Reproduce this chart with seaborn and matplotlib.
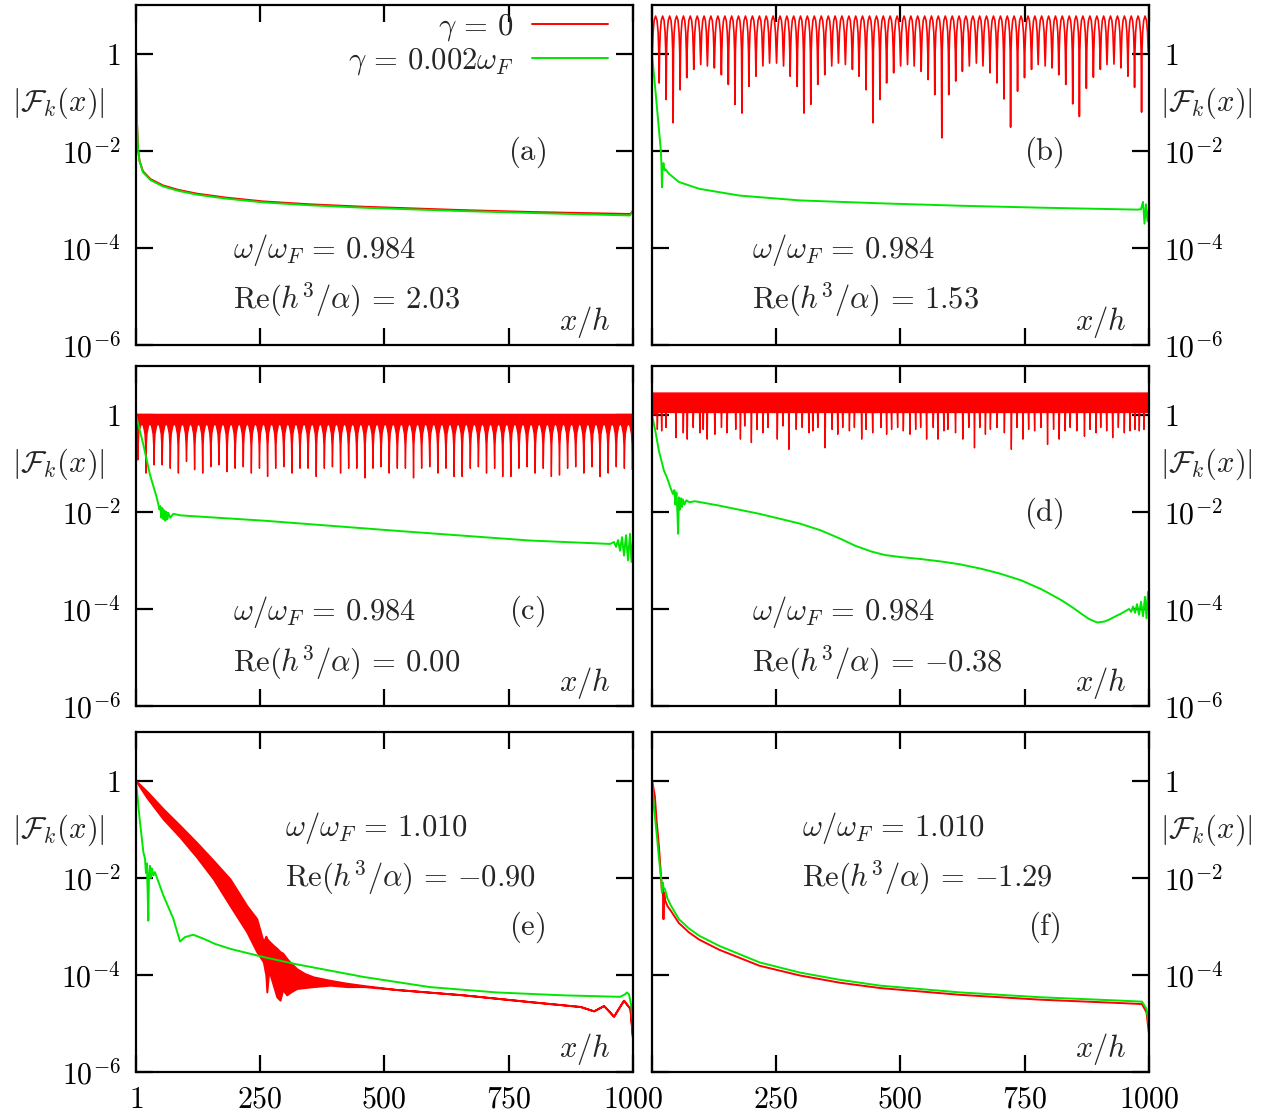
import numpy as np
import matplotlib
matplotlib.use("Agg")
import matplotlib.pyplot as plt
from matplotlib.lines import Line2D
from matplotlib.ticker import FixedLocator, FixedFormatter, NullLocator
import seaborn as sns

# ------------------------------------------------------------------ data
X_TICKS = [1, 250, 500, 750, 1000]
X_TICK_LABELS = [r"$1$", r"$250$", r"$500$", r"$750$", r"$1000$"]
Y_TICKS = [1, 1e-2, 1e-4, 1e-6]
Y_TICK_LABELS = [r"$1$", r"$10^{-2}$", r"$10^{-4}$", r"$10^{-6}$"]

panel_letters = ["a", "b", "c", "d", "e", "f"]
omega_ratio = ["0.984", "0.984", "0.984", "0.984", "1.010", "1.010"]
re_h3_alpha = ["2.03", "1.53", "0.00", "-0.38", "-0.90", "-1.29"]
legend_labels = [r"$\gamma\,=\,0$", r"$\gamma\,=\,0.002\omega_F$"]

# (a)  values given as log10 |F|
a_x = [1, 2, 3, 5, 8, 15, 30, 55, 85, 123, 180, 256, 350, 457, 658, 800, 994, 1000]
a_red_log = [0, -0.75, -1.4, -1.95, -2.2, -2.42, -2.58, -2.71, -2.80, -2.88, -2.96,
             -3.04, -3.10, -3.15, -3.22, -3.26, -3.30, -3.24]
a_green_log = [0, -0.75, -1.4, -1.96, -2.21, -2.44, -2.60, -2.73, -2.82, -2.90, -2.98,
               -3.06, -3.12, -3.17, -3.24, -3.28, -3.33, -3.22]

# (b) red: crest level and the minima between arches
b_red_start_log = 0.0
b_red_crest_log = 0.78
b_red_dip_x = [15.4, 29.4, 43.4, 57.5, 70.8, 84.9, 98.9, 112.3, 126.3, 140.4, 154.4, 167.8,
               181.8, 195.8, 209.9, 223.9, 237.3, 251.3, 265.4, 278.7, 292.8, 306.2, 320.2,
               334.2, 348.3, 362.3, 375.7, 389.7, 403.8, 417.1, 431.2, 445.2, 459.2, 472.6,
               486.7, 500.7, 514.6, 528.0, 542.0, 556.1, 569.4, 583.5, 597.5, 611.5, 624.9,
               638.9, 653.0, 666.3, 680.4, 694.4, 708.4, 721.8, 735.8, 749.8, 763.9, 777.2,
               791.3, 805.3, 818.7, 832.7, 846.7, 860.1, 874.1, 888.2, 902.2, 915.6, 929.6,
               943.6, 957.7, 971.0, 985.1]
b_red_dip_log = [-0.60, -0.94, -1.42, -0.74, -0.49, -0.32, -0.22, -0.25, -0.29, -0.43,
                 -0.63, -1.04, -1.22, -0.67, -0.46, -0.25, -0.19, -0.19, -0.25, -0.46,
                 -0.67, -1.22, -1.04, -0.63, -0.43, -0.25, -0.19, -0.22, -0.32, -0.46,
                 -0.74, -1.42, -0.94, -0.60, -0.39, -0.25, -0.22, -0.25, -0.36, -0.53,
                 -0.84, -1.73, -0.84, -0.56, -0.36, -0.25, -0.19, -0.25, -0.39, -0.60,
                 -0.93, -1.51, -0.77, -0.49, -0.32, -0.22, -0.25, -0.29, -0.43, -0.63,
                 -1.03, -1.29, -0.71, -0.48, -0.32, -0.22, -0.21, -0.29, -0.46, -0.69, -1.20]
b_green_x = [1, 10, 18.8, 20, 21, 22, 24, 26, 28, 35, 55, 95.6, 176.5, 298, 460, 621, 783,
             977, 984, 988, 991, 994, 997, 1000]
b_green_log = [0, -1.0, -2.0, -2.3, -2.75, -2.35, -2.25, -2.4, -2.38, -2.47, -2.64, -2.78,
               -2.92, -3.02, -3.08, -3.13, -3.17, -3.21, -3.2, -3.05, -3.5, -3.1, -3.45, -3.2]

# (c) red: dense band with periodic spikes
c_red_top_log = 0.02
c_red_mid_log = -0.17
c_red_spike_x = [3.7, 20.0, 36.3, 52.6, 68.9, 85.2, 101.5, 117.8, 134.1, 150.4, 166.7, 183.0,
                 199.3, 215.6, 231.9, 248.2, 264.5, 280.8, 297.1, 313.4, 329.7, 346.0, 362.3,
                 378.6, 394.9, 411.2, 427.5, 443.8, 460.1, 476.4, 492.7, 509.0, 525.3, 541.6,
                 557.9, 574.2, 590.5, 606.8, 623.1, 639.4, 655.7, 672.0, 688.3, 704.6, 720.9,
                 737.2, 753.5, 769.8, 786.1, 802.4, 818.7, 835.0, 851.3, 867.6, 883.9, 900.2,
                 916.5, 932.8, 949.1, 965.4, 981.7, 998.0]
c_red_spike_log = [-0.92, -1.19, -1.02, -1.02, -1.09, -1.19, -0.95, -1.12, -1.19, -1.06,
                   -1.02, -1.16, -1.09, -1.06, -1.19, -1.09, -1.26, -1.09, -1.06, -1.19,
                   -1.09, -1.09, -1.26, -1.09, -1.06, -1.19, -1.09, -1.09, -1.29, -1.09,
                   -1.06, -1.19, -1.09, -1.09, -1.29, -1.09, -1.06, -1.19, -1.09, -1.26,
                   -1.26, -1.09, -1.06, -1.19, -1.09, -1.26, -1.26, -1.09, -1.06, -1.19,
                   -1.09, -1.26, -1.23, -1.09, -1.06, -1.19, -1.06, -1.26, -1.19, -1.06,
                   -1.09, -1.12]
c_green_x = [1, 8, 15.7, 29, 42.6, 46, 48, 50, 52, 54, 56, 58, 60, 62, 64, 66, 70, 76, 90, 103,
             257, 525, 793, 954, 962, 966, 970, 974, 978, 982, 986, 990, 994, 997, 1000]
c_green_log = [0, -0.3, -0.61, -1.23, -1.70, -1.85, -1.95, -1.88, -2.12, -1.92, -2.15, -1.97,
               -2.18, -2.0, -2.15, -2.02, -2.12, -2.04, -2.07, -2.08, -2.18, -2.39, -2.59,
               -2.66, -2.62, -2.72, -2.58, -2.80, -2.52, -2.9, -2.48, -3.0, -2.45, -3.03, -2.6]

# (d) red: dense noisy band with irregular spikes
d_red_top_log = 0.46
d_red_base_log = 0.06
d_red_spike_x = [10.7, 19.4, 28.1, 48.1, 62.8, 70.8, 82.8, 96.2, 102.9, 110.9,
                 126.3, 139.6, 151.0, 168.3, 177.7, 186.4, 199.7, 211.1, 223.1, 233.1,
                 251.8, 263.2, 275.2, 289.9, 301.9, 315.3, 323.3, 333.3, 348.0, 362.0,
                 373.4, 383.4, 396.8, 406.8, 421.5, 430.2, 443.6, 460.3, 471.6, 481.6,
                 493.7, 505.2, 518.6, 530.0, 540.0, 552.0, 565.3, 574.7, 586.7, 594.7,
                 610.1, 624.8, 636.8, 648.2, 658.9, 670.2, 680.2, 693.6, 708.3, 722.3,
                 733.7, 745.7, 757.1, 769.1, 781.8, 795.1, 807.2, 818.5, 830.5, 840.6,
                 853.9, 869.3, 880.6, 892.7, 902.0, 914.0, 926.1, 937.4, 949.4, 960.8,
                 970.8, 979.5, 988.9]
d_red_spike_log = [-0.29, -0.32, -0.25, -0.46, -0.36, -0.49, -0.25, -0.36, -0.29, -0.49,
                   -0.39, -0.25, -0.36, -0.29, -0.49, -0.22, -0.56, -0.29, -0.36, -0.25,
                   -0.49, -0.22, -0.70, -0.29, -0.25, -0.36, -0.32, -0.25, -0.67, -0.29,
                   -0.39, -0.25, -0.32, -0.25, -0.49, -0.29, -0.36, -0.25, -0.39, -0.29,
                   -0.25, -0.32, -0.39, -0.29, -0.25, -0.49, -0.25, -0.49, -0.32, -0.29,
                   -0.36, -0.49, -0.25, -0.67, -0.25, -0.39, -0.29, -0.25, -0.36, -0.70,
                   -0.25, -0.49, -0.29, -0.32, -0.25, -0.60, -0.29, -0.49, -0.32, -0.25,
                   -0.32, -0.43, -0.29, -0.36, -0.25, -0.32, -0.46, -0.25, -0.36, -0.32,
                   -0.29, -0.32, -0.29]
d_green_x = [1, 8, 14.8, 25, 31, 38, 43, 46, 48, 50, 52, 53.5, 55, 57, 59, 61, 63, 66, 70, 76,
             87.5, 136, 217, 298, 340, 379, 410, 443, 470, 500, 540, 581, 620, 662, 700, 743,
             785, 824, 848, 864, 880, 896, 910, 920, 935, 945, 960,
             964, 968, 972, 976, 980, 984, 988, 992, 995, 998, 1000]
d_green_log = [0, -0.35, -0.74, -1.15, -1.29, -1.5, -1.63, -1.55, -1.85, -1.6, -2.0, -2.45,
               -1.7, -1.95, -1.72, -1.9, -1.74, -1.85, -1.76, -1.8,
               -1.78, -1.87, -2.04, -2.24, -2.38, -2.55, -2.70, -2.82, -2.89, -2.93, -2.97,
               -3.02, -3.08, -3.17, -3.27, -3.41, -3.60, -3.82, -3.98, -4.10, -4.21, -4.28,
               -4.26, -4.22, -4.14, -4.09, -4.0,
               -4.06, -3.95, -4.08, -3.9, -4.12, -3.85, -4.15, -3.75, -4.19, -3.65, -3.9]

# (e) red: upper / lower edge of the oscillating band
e_red_x = [1, 22.5, 56, 89.5, 123, 156.5, 190, 223.6, 243.7, 257, 262, 264, 268, 277, 284,
           290.6, 296, 304, 312, 324, 340, 357.7, 391, 424.7, 460, 525, 659, 793, 894, 921,
           941, 961, 981, 994, 1000]
e_red_hi_log = [0, -0.21, -0.58, -0.92, -1.27, -1.64, -2.02, -2.57, -2.84, -3.32, -3.2,
                -3.25, -3.3, -3.39, -3.45, -3.52, -3.55, -3.66, -3.75, -3.87, -3.97, -4.04,
                -4.11, -4.17, -4.22, -4.30, -4.41, -4.55, -4.65, -4.74, -4.63, -4.85, -4.52,
                -4.69, -5.41]
e_red_lo_log = [0, -0.34, -0.79, -1.16, -1.57, -2.02, -2.57, -3.11, -3.52, -3.73, -4.0,
                -4.35, -3.9, -4.21, -4.45, -4.52, -4.3, -4.41, -4.35, -4.28, -4.26, -4.24,
                -4.21, -4.24, -4.24, -4.30, -4.41, -4.55, -4.65, -4.74, -4.63, -4.85, -4.52,
                -4.69, -5.41]
e_green_x = [1, 8, 15.8, 19, 21, 23, 25.8, 27, 29, 31, 33, 36, 39, 56, 76, 89.5, 99.5, 116,
             136, 160, 190, 257, 324, 458, 592, 726, 860, 974, 984, 988, 992, 996, 1000]
e_green_log = [0, -0.75, -1.47, -1.6, -1.9, -1.7, -2.88, -1.95, -1.75, -2.0, -1.8, -1.95,
               -1.88, -2.36, -2.84, -3.31, -3.22, -3.17, -3.25, -3.36, -3.46, -3.63, -3.78,
               -4.04, -4.25, -4.36, -4.42, -4.45, -4.40, -4.36, -4.40, -4.6, -4.95]

# (f)
f_red_x = [1, 3, 6.7, 10, 14.8, 18, 21, 22.5, 24, 25.5, 27.7, 32, 39, 55, 75, 95.6, 136, 217,
           298, 378.8, 459.6, 621, 783, 945, 986, 995, 1000]
f_red_log = [0, -0.1, -0.31, -0.8, -1.34, -1.8, -2.3, -2.1, -2.85, -2.3, -2.47, -2.58, -2.68,
             -2.93, -3.12, -3.27, -3.48, -3.81, -4.01, -4.16, -4.27, -4.41, -4.51, -4.58,
             -4.60, -4.77, -5.21]
f_green_x = [1, 5, 10.7, 15, 18.8, 20, 21, 22.5, 24, 26.9, 32, 39, 55, 75, 95.6, 136, 217,
             298, 378.8, 459.6, 621, 783, 945, 986, 995, 1000]
f_green_log = [0, -0.55, -1.13, -1.6, -1.96, -2.05, -2.3, -2.1, -2.2, -2.23, -2.42, -2.57,
               -2.85, -3.04, -3.19, -3.40, -3.74, -3.95, -4.10, -4.22, -4.36, -4.46, -4.53,
               -4.55, -4.70, -5.04]

# ------------------------------------------------------------------ style
RED = "#ff0000"
GREEN = "#00e600"
LW = 1.4
FS = 22
TICK_FS = 21.5

# arch shape between two successive minima (fraction of period, drop below crest in log10)
ARCH_FRAC = [0.06, 0.15, 0.3, 0.5, 0.7, 0.85, 0.94]
ARCH_DROP = [-0.73, -0.34, -0.09, 0.0, -0.09, -0.34, -0.73]


def arch_line(x0, start_log, dip_x, dip_log, crest_log, x_end):
    xs, ys = [x0], [start_log]
    prev = x0
    for dx, dl in zip(dip_x, dip_log):
        for f, d in zip(ARCH_FRAC, ARCH_DROP):
            xs.append(prev + f * (dx - prev))
            ys.append(crest_log + d)
        xs.append(dx)
        ys.append(dl)
        prev = dx
    span = dip_x[-1] - dip_x[-2]
    for f, d in zip(ARCH_FRAC, ARCH_DROP):
        xx = prev + f * span
        if xx <= x_end:
            xs.append(xx)
            ys.append(crest_log + d)
    return np.array(xs), 10 ** np.array(ys)


def spiky_lower(x0, start_log, spike_x, spike_log, profile, mid_log, x_end):
    xs, ys = [x0], [start_log]
    for i, (sx, sl) in enumerate(zip(spike_x, spike_log)):
        if i > 0:
            xm = 0.5 * (spike_x[i - 1] + sx)
            if xm > xs[-1]:
                xs.append(xm)
                ys.append(mid_log)
        for dx, lv in reversed(profile):
            if sx - dx > xs[-1]:
                xs.append(sx - dx)
                ys.append(lv)
        xs.append(sx)
        ys.append(sl)
        for dx, lv in profile:
            if sx + dx < x_end:
                xs.append(sx + dx)
                ys.append(lv)
    xs.append(x_end)
    ys.append(mid_log)
    return np.array(xs), 10 ** np.array(ys)


def line(ax, x, ylog, color):
    sns.lineplot(x=np.asarray(x, float), y=10 ** np.asarray(ylog, float), ax=ax,
                 color=color, lw=LW, estimator=None, sort=False, legend=False)


sns.set_theme(style="white")
plt.rcParams.update({
    "mathtext.fontset": "cm",
    "font.family": ["DejaVu Serif"],
    "axes.edgecolor": "black",
    "axes.linewidth": 1.6,
})

fig = plt.figure(figsize=(12.71, 11.19), dpi=100)
col_left = [0.107, 0.513]
row_bottom = [0.6917, 0.3691, 0.0420]
W, H = 0.391, 0.3035

axes = []
for r in range(3):
    for c in range(2):
        axes.append(fig.add_axes([col_left[c], row_bottom[r], W, H]))

# ---- (a)
ax = axes[0]
line(ax, a_x, a_red_log, RED)
line(ax, a_x, a_green_log, GREEN)

# ---- (b)
ax = axes[1]
bx, by = arch_line(1, b_red_start_log, b_red_dip_x, b_red_dip_log, b_red_crest_log, 1000)
sns.lineplot(x=bx, y=by, ax=ax, color=RED, lw=1.2, estimator=None, sort=False, legend=False)
line(ax, b_green_x, b_green_log, GREEN)

# ---- (c)
ax = axes[2]
c_profile = [(0.8, -0.6), (2.0, -0.38), (5.0, -0.22)]
cx, clo = spiky_lower(1, 0.0, c_red_spike_x, c_red_spike_log, c_profile, c_red_mid_log, 1000)
ax.fill_between(cx, clo, 10 ** c_red_top_log, color=RED, ec=RED, lw=1.0)
line(ax, c_green_x, c_green_log, GREEN)

# ---- (d)
ax = axes[3]
d_profile = [(0.8, d_red_base_log)]
dx_, dlo = spiky_lower(1, 0.0, d_red_spike_x, d_red_spike_log, d_profile, d_red_base_log, 1000)
ax.fill_between(dx_, dlo, 10 ** d_red_top_log, color=RED, ec=RED, lw=1.0)
line(ax, d_green_x, d_green_log, GREEN)

# ---- (e)
ax = axes[4]
ax.fill_between(np.array(e_red_x), 10 ** np.array(e_red_lo_log), 10 ** np.array(e_red_hi_log),
                color=RED, ec=RED, lw=LW)
line(ax, e_green_x, e_green_log, GREEN)

# ---- (f)
ax = axes[5]
line(ax, f_red_x, f_red_log, RED)
line(ax, f_green_x, f_green_log, GREEN)

# ------------------------------------------------------------------ axes cosmetics
info_pos = [(0.195, 0.279, 0.132), (0.201, 0.279, 0.132),
            (0.195, 0.278, 0.127), (0.201, 0.278, 0.127),
            (0.300, 0.718, 0.571), (0.301, 0.718, 0.571)]
letter_pos = [(0.787, 0.568), (0.789, 0.568), (0.787, 0.278),
              (0.789, 0.568), (0.787, 0.426), (0.789, 0.426)]

for i, ax in enumerate(axes):
    r, c = divmod(i, 2)
    ax.set_facecolor("white")
    ax.set_yscale("log")
    ax.set_xlim(1, 1000)
    ax.set_ylim(1e-6, 10)
    ax.xaxis.set_major_locator(FixedLocator(X_TICKS))
    xl = list(X_TICK_LABELS)
    if c == 1:
        xl[0] = ""
    ax.xaxis.set_major_formatter(FixedFormatter(xl))
    ax.yaxis.set_major_locator(FixedLocator(Y_TICKS))
    yl = list(Y_TICK_LABELS)
    if i == 5:
        yl[-1] = ""
    ax.yaxis.set_major_formatter(FixedFormatter(yl))
    ax.yaxis.set_minor_locator(NullLocator())
    ax.xaxis.set_minor_locator(NullLocator())
    for s in ax.spines.values():
        s.set_color("black")
        s.set_linewidth(1.6)
    ax.tick_params(axis="both", which="major", direction="in", length=12, width=1.6,
                   top=True, bottom=True, left=True, right=True, colors="black",
                   labelsize=TICK_FS)
    ax.tick_params(axis="y", pad=11, labelleft=(c == 0), labelright=(c == 1))
    ax.tick_params(axis="x", pad=10, labelbottom=(r == 2), labeltop=False)
    ax.set_xlabel("")
    ax.set_ylabel(r"$|\mathcal{F}_k(x)|$", rotation=0, fontsize=FS)
    if c == 0:
        ax.yaxis.set_label_coords(-0.157, 0.712)
    else:
        ax.yaxis.set_label_position("right")
        ax.yaxis.set_label_coords(1.116, 0.712)
    ax.yaxis.label.set_horizontalalignment("center")
    ax.yaxis.label.set_verticalalignment("center")

    px, py1, py2 = info_pos[i]
    ax.text(px, py1, r"$\omega/\omega_F\,=\,%s$" % omega_ratio[i], transform=ax.transAxes,
            fontsize=FS, ha="left", va="center")
    ax.text(px, py2, r"$\mathrm{Re}(h^3/\alpha)\,=\,{%s}$" % re_h3_alpha[i],
            transform=ax.transAxes, fontsize=FS, ha="left", va="center")
    lx, ly = letter_pos[i]
    ax.text(lx, ly, r"$(\mathrm{%s})$" % panel_letters[i], transform=ax.transAxes,
            fontsize=FS, ha="center", va="center")
    ax.text(0.903, 0.068, r"$x/h$", transform=ax.transAxes, fontsize=FS,
            ha="center", va="center")

handles = [Line2D([], [], color=RED, lw=LW), Line2D([], [], color=GREEN, lw=LW)]
axes[0].legend(handles, legend_labels, loc="upper right", bbox_to_anchor=(0.95, 0.985),
               frameon=False, markerfirst=False, fontsize=FS, handlelength=2.5,
               handletextpad=0.6, labelspacing=0.05, borderaxespad=0, borderpad=0)

fig.savefig("out.png", dpi=100, facecolor="white")
